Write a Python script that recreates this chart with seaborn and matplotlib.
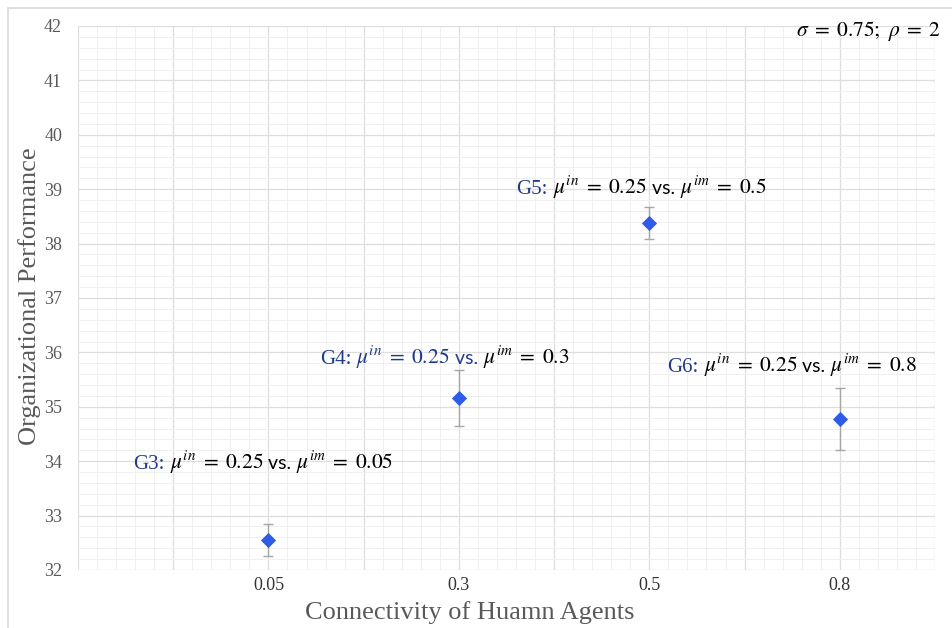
import matplotlib
matplotlib.use("Agg")
import matplotlib.pyplot as plt
import seaborn as sns
import pandas as pd
from matplotlib.ticker import MultipleLocator, FuncFormatter
from matplotlib.lines import Line2D
from matplotlib.transforms import IdentityTransform

# ---- data ----
categories = ["0.05", "0.3", "0.5", "0.8"]
performance = [32.55, 35.16, 38.38, 34.78]
errors = [0.30, 0.51, 0.30, 0.57]
group_names = ["G3", "G4", "G5", "G6"]
mu_im = ["0.05", "0.3", "0.5", "0.8"]
mu_in = "0.25"

sns.set_theme(style="white")
plt.rcParams["font.family"] = ["Liberation Serif", "DejaVu Serif"]
plt.rcParams["mathtext.fontset"] = "stix"

fig = plt.figure(figsize=(9.52, 6.28), dpi=100)
ax = fig.add_axes([78/952, 1-570/628, (935-78)/952, (570-26)/628])

df = pd.DataFrame({"conn": categories, "perf": performance, "err": errors})

ax.errorbar(df["conn"], df["perf"], yerr=df["err"], fmt="none",
            ecolor="#A6A6A6", elinewidth=1.0, capsize=3.5, capthick=1.0, zorder=3)
sns.scatterplot(data=df, x="conn", y="perf", marker="D", s=60,
                color="#2F5BEA", edgecolor="#2F5BEA", linewidth=0, zorder=4, ax=ax)

ax.set_xlim(-1, 3.5)
ax.set_ylim(32, 42)
ax.yaxis.set_major_locator(MultipleLocator(1))
ax.yaxis.set_minor_locator(MultipleLocator(0.2))
ax.xaxis.set_major_locator(MultipleLocator(0.5))
ax.xaxis.set_minor_locator(MultipleLocator(0.1))

def xfmt(v, pos):
    r = int(round(v))
    if abs(v - r) < 1e-6 and 0 <= r < len(categories):
        return categories[r]
    return ""
ax.xaxis.set_major_formatter(FuncFormatter(xfmt))

ax.grid(which="major", axis="both", color="#DEDEDE", lw=0.9, zorder=1)
ax.grid(which="minor", axis="both", color="#F0F0F0", lw=0.7, zorder=0)
ax.set_axisbelow(True)
for s in ax.spines.values():
    s.set_visible(False)
ax.tick_params(axis="x", which="both", length=0, labelsize=13,
               labelcolor="#333333", pad=5)
ax.tick_params(axis="y", which="major", length=4.5, width=0.8, color="#E0E0E0",
               labelsize=13, labelcolor="#595959", pad=7)
ax.tick_params(axis="y", which="minor", length=0)

ax.set_xlabel("Connectivity of Huamn Agents", fontsize=19, color="#595959")
ax.set_ylabel("Organizational Performance", fontsize=19, color="#595959")
ax.xaxis.set_label_coords((470-78)/857, (570-613)/544)
ax.yaxis.set_label_coords((30-78)/857, (570-296)/544)
ax.xaxis.label.set_va("center")
ax.yaxis.label.set_va("center")

# ---- annotations ----
fig.canvas.draw()
renderer = fig.canvas.get_renderer()
navy = "#1F3A8A"
fs = 15.5
eq = r"\;=\;"

def seg_text(xd, yd, parts):
    xdisp, ydisp = ax.transData.transform((xd, yd))
    for txt, col, fam, size in parts:
        kw = {} if fam is None else {"family": fam}
        t = ax.text(xdisp, ydisp, txt, transform=IdentityTransform(), color=col,
                    fontsize=size, ha="left", va="baseline", zorder=5, **kw)
        bb = t.get_window_extent(renderer)
        xdisp = bb.x1

label_pos = [(-0.711, 33.86), (0.270, 35.79), (1.303, 38.92), (2.095, 35.645)]
for i, g in enumerate(group_names):
    c2 = navy if g == "G4" else "black"
    parts = [(g + ":", navy, None, 15),
             (r"$\ \mu^{in}" + eq + mu_in + "$", c2, None, fs),
             (" vs. ", c2, ["Lato", "DejaVu Sans"], 14),
             (r"$\mu^{im}" + eq + mu_im[i] + "$", "black", None, fs)]
    seg_text(label_pos[i][0], label_pos[i][1], parts)

ax.text(3.531, 41.82, r"$\sigma" + eq + r"0.75;\ \rho" + eq + "2$", fontsize=fs,
        ha="right", va="baseline", color="black", zorder=5)

fig.lines.append(Line2D([8/952, 8/952], [0, 1-8/628], transform=fig.transFigure,
                        color="#D9D9D9", lw=1.2))
fig.lines.append(Line2D([8/952, 1], [1-8/628, 1-8/628], transform=fig.transFigure,
                        color="#D9D9D9", lw=1.2))

fig.savefig("out.png", dpi=100)
